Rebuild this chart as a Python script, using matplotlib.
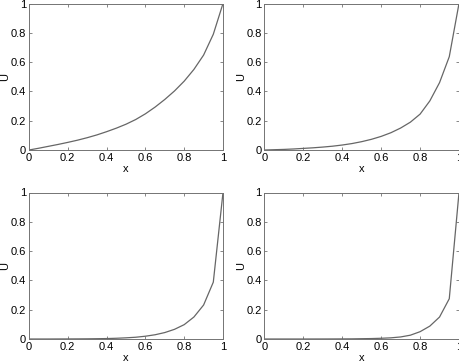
import numpy as np
import matplotlib
matplotlib.use("Agg")
import matplotlib.pyplot as plt

plt.rcParams['font.family'] = ['Liberation Sans', 'DejaVu Sans']

# grid points (step 0.05)
x = np.linspace(0, 1, 21)

# values, one list per panel
u1 = [0.0, 0.012, 0.025, 0.038, 0.052, 0.067, 0.084, 0.103, 0.125, 0.149, 0.176,
      0.208, 0.247, 0.293, 0.345, 0.403, 0.470, 0.550, 0.648, 0.790, 1.0]
u2 = [0.0, 0.002, 0.004, 0.007, 0.011, 0.015, 0.020, 0.026, 0.034, 0.044, 0.057,
      0.073, 0.093, 0.118, 0.150, 0.190, 0.245, 0.335, 0.460, 0.637, 1.0]
u3 = [0.0, 0.0, 0.0, 0.0003, 0.0005, 0.0008, 0.0012, 0.002, 0.003, 0.005, 0.008,
      0.012, 0.019, 0.029, 0.044, 0.066, 0.098, 0.150, 0.232, 0.388, 1.0]
u4 = [0.0, 0.0, 0.0, 0.0, 0.0, 0.0001, 0.0002, 0.0004, 0.0007, 0.001, 0.002,
      0.003, 0.005, 0.008, 0.014, 0.026, 0.050, 0.088, 0.150, 0.275, 1.0]

panels = [u1, u2, u3, u4]
xticks = [0, 0.2, 0.4, 0.6, 0.8, 1]
xticklabels = ['0', '0.2', '0.4', '0.6', '0.8', '1']
yticks = [0, 0.2, 0.4, 0.6, 0.8, 1]
yticklabels = ['0', '0.2', '0.4', '0.6', '0.8', '1']

W, H = 460, 363
fig = plt.figure(figsize=(W / 100, H / 100), dpi=100)

# axes boxes in pixels: left, top, right, bottom
boxes = [(29, 3.5, 223, 150), (264.5, 3.5, 459, 150),
         (29, 192.5, 223, 339), (264.5, 192.5, 459, 339)]

for u, (l, t, r, b) in zip(panels, boxes):
    ax = fig.add_axes([l / W, 1 - b / H, (r - l) / W, (b - t) / H])
    ax.plot(x, u, color='0.4', lw=0.9)
    ax.set_xlim(0, 1)
    ax.set_ylim(0, 1)
    ax.set_xticks(xticks)
    ax.set_xticklabels(xticklabels)
    ax.set_yticks(yticks)
    ax.set_yticklabels(yticklabels)
    ax.tick_params(direction='in', length=2.5, width=0.6, color='0.45',
                   top=True, right=True, labelsize=8, pad=2)
    for s in ax.spines.values():
        s.set_color('0.45')
        s.set_linewidth(0.7)
    ax.set_xlabel('x', fontsize=8, labelpad=1)
    ax.set_ylabel('U', fontsize=8, labelpad=0.5)

fig.savefig('out.png', dpi=100)
